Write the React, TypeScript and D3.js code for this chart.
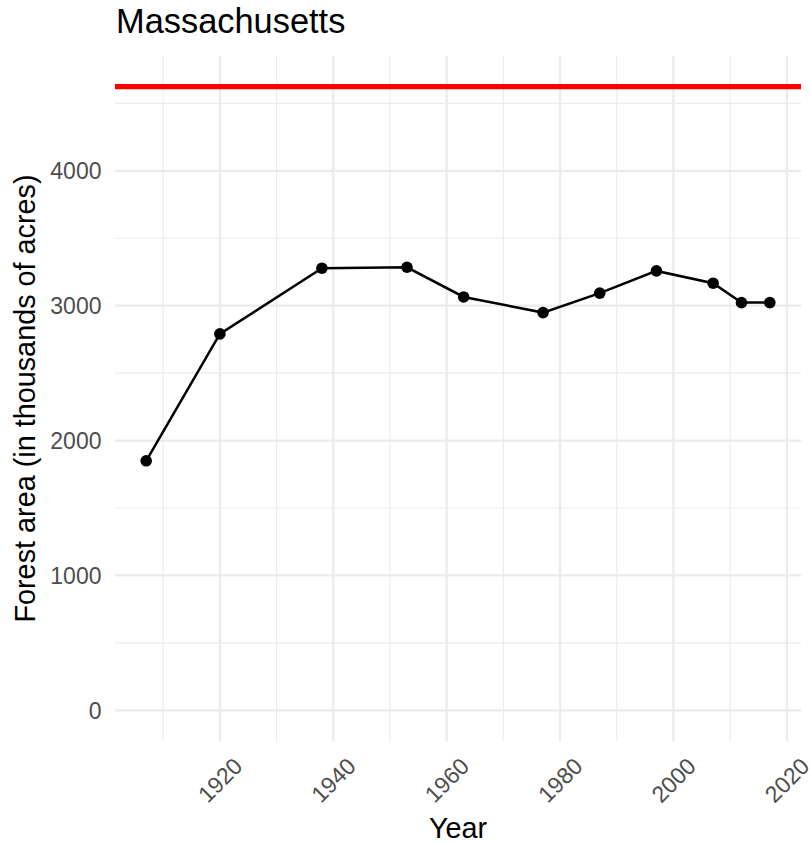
import React from "react";
import * as d3 from "d3";

const years = [1907, 1920, 1938, 1953, 1963, 1977, 1987, 1997, 2007, 2012, 2017];
const forestArea = [1850, 2791, 3278, 3285, 3065, 2949, 3093, 3258, 3167, 3023, 3023];
const referenceLevel = 4624;
const xMajorTicks = [1920, 1940, 1960, 1980, 2000, 2020];
const xMinorTicks = [1910, 1930, 1950, 1970, 1990, 2010];
const yMajorTicks = [0, 1000, 2000, 3000, 4000];
const yMinorTicks = [500, 1500, 2500, 3500, 4500];

const W = 811;
const H = 843;
const FONT = "'Liberation Sans', Arial, Helvetica, sans-serif";

export default function App() {
  const left = 115;
  const right = 801;
  const top = 55.5;
  const bottom = 741.5;

  const xExt = d3.extent(years) as [number, number];
  const xPad = (xExt[1] - xExt[0]) * 0.05;
  const x = d3.scaleLinear().domain([xExt[0] - xPad, xExt[1] + xPad]).range([left, right]);

  const yMax = Math.max(referenceLevel, d3.max(forestArea) as number);
  const yPad = yMax * 0.05;
  const y = d3.scaleLinear().domain([0 - yPad, yMax + yPad]).range([bottom, top]);

  const pts = years.map((yr, i) => [yr, forestArea[i]] as [number, number]);
  const line = d3.line<[number, number]>().x((d) => x(d[0])).y((d) => y(d[1]));

  return (
    <svg width={W} height={H} style={{ position: "absolute", left: 0, top: 0, background: "#fff" }}>
      <rect x={0} y={0} width={W} height={H} fill="#fff" />
      {yMinorTicks.map((t) => (
        <line key={"ym" + t} x1={left} x2={right} y1={y(t)} y2={y(t)} stroke="#EBEBEB" strokeWidth={1.1} />
      ))}
      {xMinorTicks.map((t) => (
        <line key={"xm" + t} x1={x(t)} x2={x(t)} y1={top} y2={bottom} stroke="#EBEBEB" strokeWidth={1.1} />
      ))}
      {yMajorTicks.map((t) => (
        <line key={"yM" + t} x1={left} x2={right} y1={y(t)} y2={y(t)} stroke="#EBEBEB" strokeWidth={2.2} />
      ))}
      {xMajorTicks.map((t) => (
        <line key={"xM" + t} x1={x(t)} x2={x(t)} y1={top} y2={bottom} stroke="#EBEBEB" strokeWidth={2.2} />
      ))}
      <line x1={left} x2={right} y1={y(referenceLevel)} y2={y(referenceLevel)} stroke="#FF0000" strokeWidth={5.3} />
      <path d={line(pts) || ""} fill="none" stroke="#000" strokeWidth={2.5} />
      {pts.map((p, i) => (
        <circle key={i} cx={x(p[0])} cy={y(p[1])} r={5.8} fill="#000" />
      ))}
      {yMajorTicks.map((t) => (
        <text key={"yl" + t} x={101.5} y={y(t)} dy="0.36em" textAnchor="end" fontFamily={FONT} fontSize={23} fill="#4D4D4D">
          {t}
        </text>
      ))}
      {xMajorTicks.map((t) => (
        <text
          key={"xl" + t}
          transform={`translate(${x(t)},${780}) rotate(-45)`}
          textAnchor="middle"
          dy="0.36em"
          fontFamily={FONT}
          fontSize={23}
          fill="#4D4D4D"
        >
          {t}
        </text>
      ))}
      <text x={(left + right) / 2} y={838} textAnchor="middle" fontFamily={FONT} fontSize={28.8} fill="#000">
        Year
      </text>
      <text
        transform={`translate(${35},${(top + bottom) / 2}) rotate(-90)`}
        textAnchor="middle"
        fontFamily={FONT}
        fontSize={28.8}
        fill="#000"
      >
        Forest area (in thousands of acres)
      </text>
      <text x={116} y={33} fontFamily={FONT} fontSize={34.4} fill="#000">
        Massachusetts
      </text>
    </svg>
  );
}
